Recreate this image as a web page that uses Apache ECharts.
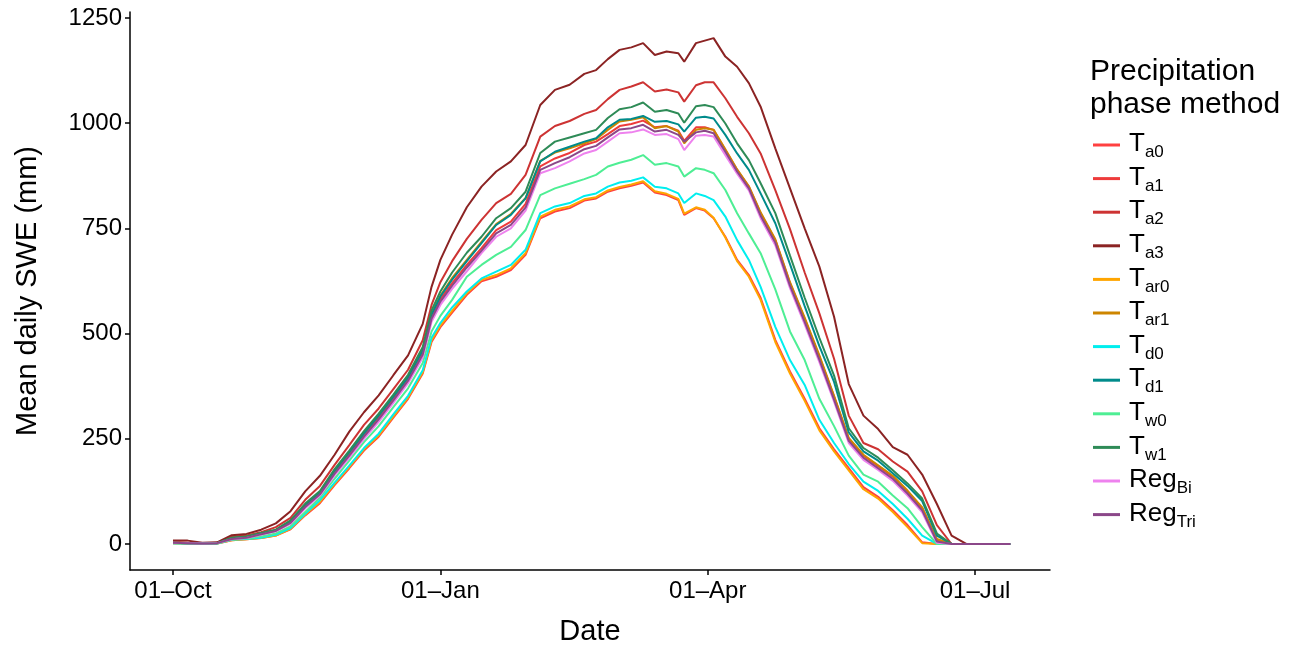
<!DOCTYPE html>
<html>
<head>
<meta charset="utf-8">
<script src="https://cdn.jsdelivr.net/npm/echarts@6/dist/echarts.min.js"></script>
<title>Mean daily SWE</title>
<style>
  html, body { margin: 0; padding: 0; background: #fff; }
  #chart { width: 1307px; height: 648px; }
</style>
</head>
<body>
<div id="chart"></div>
<script>
// days since 01-Oct
var days = [0,5,10,15,20,25,30,35,40,45,50,55,60,65,70,75,80,85,88,91,95,100,105,110,115,120,125,130,135,140,
  144,148,152,156,160,164,168,172,174,178,181,184,188,192,196,200,205,210,215,220,225,230,235,240,245,250,255,260,265,270,275,285];

var tickDays = [0, 91, 182, 273];
var tickLabels = ['01\u2013Oct', '01\u2013Jan', '01\u2013Apr', '01\u2013Jul'];
var yTicks = [0, 250, 500, 750, 1000, 1250];

// mean daily SWE (mm), one array per method
var ta0 = [2,1,1,1,9,11,14,20,35,68,97,140,180,222,255,300,345,405,480,515,550,592,624,635,651,687,774,790,798,816,
  821,837,845,851,859,835,829,817,782,798,792,774,730,675,639,585,485,410,345,275,225,180,135,112,80,45,4,0,0,0,0,0];
var ta1 = [3,2,1,2,13,16,24,32,52,90,120,170,213,258,300,345,392,455,540,582,620,663,703,746,766,808,897,916,929,948,
  956,974,993,998,1006,990,993,982,958,990,990,984,936,889,849,786,722,620,535,445,350,250,210,185,160,125,85,10,0,0,0,0];
var ta2 = [5,3,2,2,17,20,28,40,62,105,138,188,235,283,322,368,414,484,568,622,672,725,770,810,832,877,968,993,1005,1022,
  1031,1057,1079,1087,1097,1075,1080,1073,1051,1090,1097,1097,1059,1015,976,928,841,748,645,548,440,305,240,225,196,172,125,45,0,0,0,0];
var ta3 = [8,8,3,4,21,24,34,49,78,125,162,212,267,313,353,401,448,523,611,675,735,800,849,885,909,948,1043,1079,1091,1117,
  1126,1152,1174,1180,1190,1162,1170,1166,1146,1190,1196,1202,1158,1134,1095,1039,940,845,750,659,540,380,305,273,230,212,165,95,20,0,0,0];
var tar0 = [2,1,1,1,9,11,14,20,36,70,100,143,183,225,258,303,348,408,484,519,554,596,628,639,655,691,778,794,802,819,
  824,840,848,854,862,838,832,820,785,800,794,775,728,672,635,580,480,405,340,270,220,175,130,108,76,40,2,0,0,0,0,0];
var tar1 = [3,2,1,2,14,17,25,33,54,93,123,174,218,264,306,351,398,462,548,590,632,675,718,760,784,822,910,930,940,952,
  962,984,1004,1008,1014,988,993,980,952,984,988,984,938,890,850,788,724,622,538,448,352,252,212,187,162,127,87,12,0,0,0,0];
var td0 = [2,1,1,1,10,12,15,22,38,72,104,146,186,228,262,308,352,413,490,525,562,600,631,647,663,699,786,802,810,827,
  833,849,859,863,871,849,845,833,810,833,827,817,778,722,675,611,516,437,378,295,240,190,148,126,95,60,20,0,0,0,0,0];
var td1 = [3,2,1,2,14,17,25,33,54,93,123,174,218,263,305,350,396,460,545,588,628,672,715,758,782,821,909,932,944,956,
  964,990,1008,1010,1017,1003,1005,997,980,1013,1015,1011,972,928,889,833,762,665,565,470,385,265,220,198,168,138,102,20,0,0,0,0];
var tw0 = [2,1,1,1,11,13,18,25,42,76,110,155,198,242,280,325,370,430,505,542,580,635,663,687,706,746,829,845,856,867,
  877,897,906,913,924,901,905,897,873,893,889,881,841,786,738,691,605,505,437,345,280,210,165,148,115,85,40,0,0,0,0,0];
var tw1 = [3,2,1,2,15,18,26,34,56,96,126,178,222,268,310,355,402,468,555,600,645,692,730,774,798,837,929,956,966,976,
  984,1012,1033,1038,1049,1027,1031,1023,1001,1040,1043,1038,999,952,912,857,786,685,585,490,400,275,228,205,175,144,108,25,0,0,0,0];
var regBi = [3,2,1,2,11,14,22,30,48,85,115,163,205,250,290,335,382,443,528,568,606,648,691,730,750,792,881,893,909,928,
  936,956,976,978,985,972,974,962,936,970,972,968,924,880,840,774,710,608,522,432,338,240,200,176,150,115,75,3,0,0,0,0];
var regTri = [3,2,1,2,12,15,23,31,50,88,118,167,210,255,296,341,388,450,535,576,614,657,697,738,758,800,889,905,919,938,
  946,966,985,988,996,980,984,972,956,978,982,976,932,885,845,780,716,614,528,438,343,245,205,180,155,120,80,6,0,0,0,0];

var names = ['Ta0','Ta1','Ta2','Ta3','Tar0','Tar1','Td0','Td1','Tw0','Tw1','RegBi','RegTri'];
var labels = [['T','a0'],['T','a1'],['T','a2'],['T','a3'],['T','ar0'],['T','ar1'],['T','d0'],['T','d1'],
  ['T','w0'],['T','w1'],['Reg','Bi'],['Reg','Tri']];
var values = [ta0, ta1, ta2, ta3, tar0, tar1, td0, td1, tw0, tw1, regBi, regTri];
var colors = ['#FF4040','#EE3B3B','#CD3333','#8B2323','#FFA500','#CD8500','#00EEEE','#008B8B',
  '#4EEE94','#2E8B57','#EE82EE','#8B4789'];

var font = 'Liberation Sans, Arial, Helvetica, sans-serif';

var series = [];
for (var i = 0; i < names.length; i++) {
  var vals = values[i];
  series.push({
    name: names[i],
    type: 'line',
    showSymbol: false,
    symbol: 'none',
    color: colors[i],
    lineStyle: { width: 2, color: colors[i] },
    data: days.map(function (d, j) { return [d, vals[j]]; })
  });
}

var labelOf = {};
names.forEach(function (n, i) { labelOf[n] = '{b|' + labels[i][0] + '}{s|' + labels[i][1] + '}'; });

var chart = echarts.init(document.getElementById('chart'));
chart.setOption({
  animation: false,
  backgroundColor: '#fff',
  textStyle: { fontFamily: font },
  title: {
    text: 'Precipitation\nphase method',
    left: 1085,
    top: 50,
    textStyle: { fontFamily: font, fontSize: 30, fontWeight: 'normal', color: '#000', lineHeight: 33 }
  },
  legend: {
    orient: 'vertical',
    left: 1093,
    top: 131,
    padding: 0,
    itemWidth: 27,
    itemHeight: 3,
    itemGap: 3.6,
    icon: 'rect',
    data: names,
    formatter: function (n) { return labelOf[n]; },
    textStyle: {
      color: '#000',
      padding: [0, 0, 0, 4],
      rich: {
        b: { fontFamily: font, fontSize: 26, color: '#000', lineHeight: 28, verticalAlign: 'top' },
        s: { fontFamily: font, fontSize: 17, color: '#000', lineHeight: 16, verticalAlign: 'top', padding: [13, 0, 0, 0] }
      }
    }
  },
  grid: { left: 130, right: 257, top: 12, bottom: 78, containLabel: false, outerBoundsMode: 'none' },
  xAxis: {
    type: 'value',
    min: -14.64,
    max: 298.5,
    name: 'Date',
    nameLocation: 'middle',
    nameGap: 47,
    nameTextStyle: { fontFamily: font, fontSize: 29, color: '#000' },
    splitLine: { show: false },
    axisLine: { show: true, onZero: false, lineStyle: { color: '#000', width: 1.5 } },
    axisTick: { show: true, length: 5, customValues: tickDays, lineStyle: { color: '#000', width: 1.5 } },
    axisLabel: {
      customValues: tickDays,
      margin: 9,
      fontFamily: font,
      fontSize: 24,
      color: '#000',
      formatter: function (v) { return tickLabels[tickDays.indexOf(v)]; }
    }
  },
  yAxis: {
    type: 'value',
    min: -61.8,
    max: 1264,
    name: 'Mean daily SWE (mm)',
    nameLocation: 'middle',
    nameGap: 88,
    nameTextStyle: { fontFamily: font, fontSize: 29, color: '#000' },
    splitLine: { show: false },
    axisLine: { show: true, onZero: false, lineStyle: { color: '#000', width: 1.5 } },
    axisTick: { show: true, length: 5, customValues: yTicks, lineStyle: { color: '#000', width: 1.5 } },
    axisLabel: {
      customValues: yTicks,
      margin: 8,
      fontFamily: font,
      fontSize: 24,
      color: '#000',
      formatter: function (v) { return String(v); }
    }
  },
  series: series
});
</script>
</body>
</html>
